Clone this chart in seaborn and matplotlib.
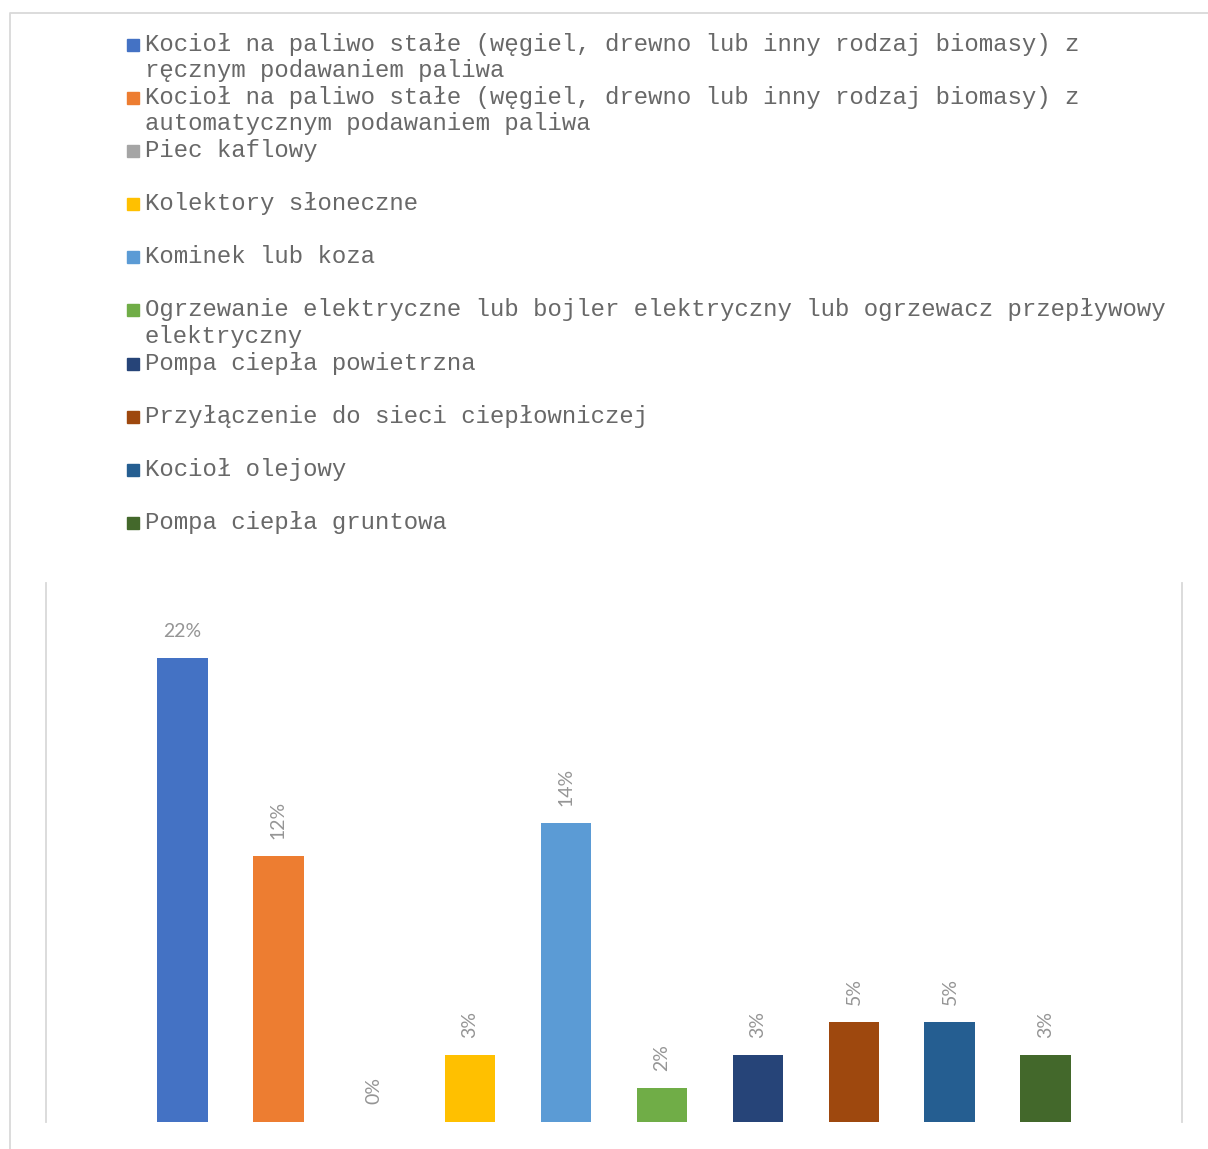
import numpy as np
import pandas as pd
import matplotlib
matplotlib.use("Agg")
import matplotlib.pyplot as plt
from matplotlib.patches import Rectangle
from matplotlib.lines import Line2D
import seaborn as sns

# --- Datos: systemy grzewcze (udział odpowiedzi) ---
kategorie = [
    "Kocioł na paliwo stałe (węgiel, drewno lub inny rodzaj biomasy) z\nręcznym podawaniem paliwa",
    "Kocioł na paliwo stałe (węgiel, drewno lub inny rodzaj biomasy) z\nautomatycznym podawaniem paliwa",
    "Piec kaflowy",
    "Kolektory słoneczne",
    "Kominek lub koza",
    "Ogrzewanie elektryczne lub bojler elektryczny lub ogrzewacz przepływowy\nelektryczny",
    "Pompa ciepła powietrzna",
    "Przyłączenie do sieci ciepłowniczej",
    "Kocioł olejowy",
    "Pompa ciepła gruntowa",
]
udzial = [0.2154, 0.1231, 0.0, 0.0308, 0.1385, 0.0154, 0.0308, 0.0462, 0.0462, 0.0308]
kolory = ["#4472C4", "#ED7D31", "#A5A5A5", "#FFC000", "#5B9BD5",
          "#70AD47", "#264478", "#9E480E", "#255E91", "#43682B"]

df = pd.DataFrame({"kategoria": kategorie, "udzial": udzial})

W, H = 1208, 1149
sns.set_style("white")
fig = plt.figure(figsize=(W / 100, H / 100), dpi=100)

# plot area in pixels: x 46..1182, y 583..1121.5
ax = fig.add_axes([46 / W, 1 - 1121.5 / H, 1136 / W, 538.5 / H])
sns.barplot(data=df, x="kategoria", y="udzial", hue="kategoria",
            order=kategorie, hue_order=kategorie, palette=kolory,
            dodge=False, width=0.53, saturation=1, legend=False,
            linewidth=0, ax=ax)

ax.set_xlim(-1.418, 10.418)
ax.set_ylim(0, 0.25)
ax.set_xticks([])
ax.set_yticks([])
ax.set_xlabel("")
ax.set_ylabel("")
for s in ["top", "bottom"]:
    ax.spines[s].set_visible(False)
for s in ["left", "right"]:
    ax.spines[s].set_color("#d9d9d9")
    ax.spines[s].set_linewidth(1.3)

# etykiety danych (pierwsza pozioma, reszta obrócona)
etykieta_font = dict(family=["Lato", "Open Sans", "DejaVu Sans"],
                     fontsize=14, color="#959595")
for i, v in enumerate(udzial):
    rot = 0 if i == 0 else 90
    ax.annotate(f"{v:.0%}", (i, v), xytext=(0, 12.5), textcoords="offset points",
                ha="center", va="bottom", rotation=rot, **etykieta_font)

# --- legenda (ręcznie, kwadrat przy pierwszej linii) ---
krok = 26.57
for i, (nazwa, kol) in enumerate(zip(kategorie, kolory)):
    for j, linia in enumerate(nazwa.split("\n")):
        y = 50.7 + krok * (2 * i + j)
        fig.text(145 / W, 1 - y / H, linia, ha="left", va="baseline",
                 family="Liberation Mono", fontsize=17.3, color="#686868")
    y0 = 50.7 + krok * 2 * i
    fig.patches.append(Rectangle((127 / W, 1 - y0 / H), 12 / W, 12 / H,
                                 transform=fig.transFigure, color=kol))

# ramka wykresu (ucięta z prawej i od dołu)
fig.add_artist(Line2D([9.5 / W, 9.5 / W, 1.0], [0.0, 1 - 13 / H, 1 - 13 / H],
                      transform=fig.transFigure, color="#d9d9d9", lw=1.3))

fig.savefig("out.png", dpi=100)
